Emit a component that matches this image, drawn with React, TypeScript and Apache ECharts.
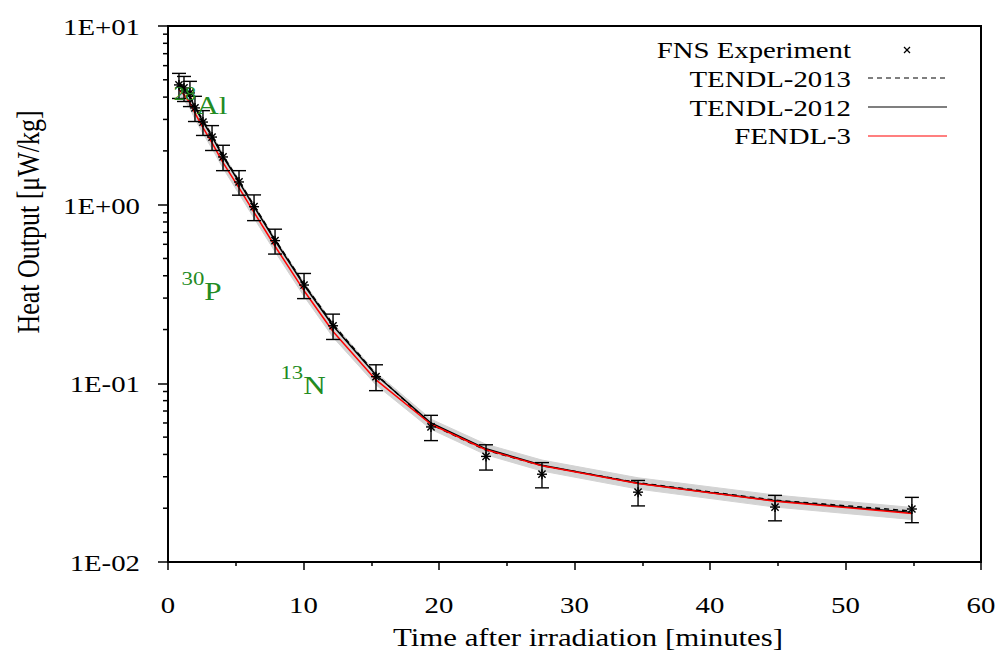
import React, { useEffect, useRef } from 'react';
import * as echarts from 'echarts';

// ---- data ----
const times = [0.81, 1.18, 1.62, 1.99, 2.58, 3.25, 4.06, 5.24, 6.35, 7.9, 10.04, 12.18, 15.35, 19.41, 23.47, 27.6, 34.69, 44.8, 54.9];
const expValues = [4.68, 4.5, 4.22, 3.48, 2.9, 2.39, 1.85, 1.34, 0.974, 0.629, 0.355, 0.21, 0.109, 0.057, 0.039, 0.031, 0.0246, 0.0203, 0.0198];
const expErrors = [0.75, 0.72, 0.68, 0.56, 0.46, 0.38, 0.3, 0.21, 0.16, 0.1, 0.057, 0.034, 0.018, 0.0092, 0.0063, 0.005, 0.004, 0.0033, 0.0032];
const tendl2013 = [4.8, 4.5, 4.05, 3.55, 2.96, 2.44, 1.89, 1.36, 0.99, 0.64, 0.36, 0.214, 0.1125, 0.0588, 0.0422, 0.0346, 0.0278, 0.0222, 0.0193];
const tendl2012 = [4.75, 4.45, 4.0, 3.5, 2.92, 2.4, 1.86, 1.34, 0.975, 0.63, 0.355, 0.21, 0.1114, 0.06, 0.043, 0.0348, 0.0276, 0.022, 0.0189];
const fendl3 = [4.4, 4.12, 3.72, 3.25, 2.7, 2.22, 1.72, 1.24, 0.905, 0.585, 0.33, 0.195, 0.1045, 0.059, 0.0425, 0.0346, 0.0275, 0.0219, 0.0187];
const bandLow = [4.1, 3.85, 3.45, 3.02, 2.5, 2.06, 1.6, 1.15, 0.84, 0.545, 0.307, 0.181, 0.098, 0.0553, 0.0398, 0.0323, 0.0256, 0.0203, 0.0173];
const bandHigh = [4.95, 4.6, 4.12, 3.62, 3.02, 2.48, 1.92, 1.38, 1.0, 0.648, 0.366, 0.217, 0.115, 0.063, 0.0456, 0.0372, 0.0296, 0.0237, 0.0202];

const xTickValues = [0, 10, 20, 30, 40, 50, 60];
const xTickLabels = ['0', '10', '20', '30', '40', '50', '60'];
const yTickValues = [0.01, 0.1, 1, 10];
const yTickLabels = ['1E-02', '1E-01', '1E+00', '1E+01'];
const yDecades = [0.01, 0.1, 1];
const yMantissas = [2, 3, 4, 5, 6, 7, 8, 9];

const legendNames = ['FNS Experiment', 'TENDL-2013', 'TENDL-2012', 'FENDL-3'];

type Nuclide = { mass: string; sym: string; t: number; v: number };
const nuclides: Nuclide[] = [
  { mass: '28', sym: 'Al', t: 0.4, v: 3.6 },
  { mass: '30', sym: 'P', t: 1.0, v: 0.33 },
  { mass: '13', sym: 'N', t: 8.3, v: 0.098 },
];

const FONT = 'Liberation Serif';
const SX = 1.2;
const FS = 24;
const GREEN = '#228b22';

function txt(x: number, y: number, text: string, opts: any = {}) {
  const align = opts.align || 'left';
  const va = opts.va || 'middle';
  return {
    type: 'text',
    x,
    y,
    scaleX: opts.scaleX ?? SX,
    scaleY: opts.scaleY ?? 1,
    rotation: opts.rotation || 0,
    silent: true,
    z: 100,
    style: {
      text,
      fontSize: opts.fontSize || FS,
      fontFamily: FONT,
      fill: opts.fill || '#000',
      align,
      verticalAlign: va,
      textAlign: align,
      textVerticalAlign: va,
    },
  };
}

export default function App() {
  const ref = useRef<HTMLDivElement>(null);
  useEffect(() => {
    if (!ref.current) return;
    const chart = echarts.init(ref.current, undefined, { renderer: 'svg' });

    const pts = (arr: number[]) => times.map((t, i) => [t, arr[i]]);
    const minorY: number[][] = [];
    yDecades.forEach((d) => yMantissas.forEach((m) => minorY.push([0, m * d])));

    const option: any = {
      animation: false,
      grid: { left: 168, top: 26, width: 813, height: 536, show: true, borderColor: '#000', borderWidth: 2, containLabel: false },
      xAxis: {
        type: 'value', min: 0, max: 60, interval: 10,
        axisLine: { show: true, onZero: false, lineStyle: { color: '#000', width: 2 } },
        axisTick: { show: true, inside: false, length: 8, lineStyle: { color: '#000', width: 1.5 } },
        minorTick: { show: true, splitNumber: 2, length: 4, lineStyle: { color: '#000', width: 1.5 } },
        axisLabel: { show: false },
        splitLine: { show: false },
      },
      yAxis: {
        type: 'log', logBase: 10, min: 0.01, max: 10,
        axisLine: { show: true, lineStyle: { color: '#000', width: 2 } },
        axisTick: { show: true, inside: false, length: 10, lineStyle: { color: '#000', width: 1.5 } },
        minorTick: { show: false },
        axisLabel: { show: false },
        splitLine: { show: false },
      },
      series: [
        {
          type: 'custom', name: 'band', silent: true, z: 1,
          data: [[times[0], bandLow[0]]],
          renderItem: (_p: any, api: any) => {
            const up = times.map((t, i) => api.coord([t, bandHigh[i]]));
            const lo = times.map((t, i) => api.coord([t, bandLow[i]])).reverse();
            return { type: 'polygon', shape: { points: up.concat(lo) }, style: { fill: '#d3d3d3', stroke: '#d3d3d3', lineWidth: 1 } };
          },
        },
        {
          type: 'custom', name: 'yminor', silent: true, clip: false, z: 5,
          data: minorY,
          renderItem: (_p: any, api: any) => {
            const c = api.coord([api.value(0), api.value(1)]);
            return { type: 'line', shape: { x1: c[0] - 5, y1: c[1], x2: c[0], y2: c[1] }, style: { stroke: '#000', lineWidth: 1.5 } };
          },
        },
        { type: 'line', name: 'TENDL-2012', data: pts(tendl2012), showSymbol: false, z: 2, lineStyle: { color: '#000', width: 1.5 } },
        { type: 'line', name: 'TENDL-2013', data: pts(tendl2013), showSymbol: false, z: 3, lineStyle: { color: '#000', width: 1.4, type: [5, 4] } },
        { type: 'line', name: 'FENDL-3', data: pts(fendl3), showSymbol: false, z: 4, lineStyle: { color: '#ff0000', width: 1.5 } },
        {
          type: 'custom', name: 'FNS Experiment', silent: true, z: 6,
          data: times.map((t, i) => [t, expValues[i], expErrors[i]]),
          encode: { x: 0, y: 1 },
          renderItem: (_p: any, api: any) => {
            const x = api.value(0), y = api.value(1), e = api.value(2);
            const c = api.coord([x, y]);
            const top = api.coord([x, y + e]);
            const bot = api.coord([x, y - e]);
            const st = { stroke: '#000', lineWidth: 1.4 };
            const cw = 7, m = 5, d = 3.6;
            const L = (x1: number, y1: number, x2: number, y2: number) => ({ type: 'line', shape: { x1, y1, x2, y2 }, style: st });
            return {
              type: 'group',
              children: [
                L(c[0], top[1], c[0], bot[1]),
                L(c[0] - cw, top[1], c[0] + cw, top[1]),
                L(c[0] - cw, bot[1], c[0] + cw, bot[1]),
                L(c[0] - m, c[1], c[0] + m, c[1]),
                L(c[0], c[1] - m, c[0], c[1] + m),
                L(c[0] - d, c[1] - d, c[0] + d, c[1] + d),
                L(c[0] - d, c[1] + d, c[0] + d, c[1] - d),
              ],
            };
          },
        },
      ],
    };
    chart.setOption(option);

    const toPx = (x: number, y: number) => chart.convertToPixel({ xAxisIndex: 0, yAxisIndex: 0 }, [x, y]) as number[];
    const g: any[] = [];
    xTickValues.forEach((v, i) => {
      const p = toPx(v, 0.01);
      g.push(txt(p[0], 605, xTickLabels[i], { align: 'center' }));
    });
    yTickValues.forEach((v, i) => {
      const p = toPx(0, v);
      g.push(txt(140, p[1] + 1, yTickLabels[i], { align: 'right' }));
    });
    g.push(txt(588, 637, 'Time after irradiation [minutes]', { align: 'center', fontSize: 25.7 }));
    g.push(txt(28, 222, 'Heat Output [\u03bcW/kg]', { align: 'center', rotation: Math.PI / 2, scaleX: 1, scaleY: SX, fontSize: 26 }));

    // legend
    const legY = [50, 79, 108, 136];
    legendNames.forEach((n, i) => g.push(txt(851, legY[i], n, { align: 'right' })));
    g.push({ type: 'line', silent: true, shape: { x1: 904, y1: 47, x2: 910, y2: 53 }, style: { stroke: '#000', lineWidth: 1.2 } });
    g.push({ type: 'line', silent: true, shape: { x1: 904, y1: 53, x2: 910, y2: 47 }, style: { stroke: '#000', lineWidth: 1.2 } });
    g.push({ type: 'line', silent: true, shape: { x1: 868, y1: 78, x2: 947, y2: 78 }, style: { stroke: '#000', lineWidth: 1.2, lineDash: [5, 4] } });
    g.push({ type: 'line', silent: true, shape: { x1: 868, y1: 107, x2: 947, y2: 107 }, style: { stroke: '#000', lineWidth: 1.2 } });
    g.push({ type: 'line', silent: true, shape: { x1: 868, y1: 136, x2: 947, y2: 136 }, style: { stroke: '#ff0000', lineWidth: 1.2 } });

    // nuclide labels
    nuclides.forEach((n) => {
      const p = toPx(n.t, n.v);
      g.push(txt(p[0], p[1] - 12, n.mass, { fill: GREEN, fontSize: 19 }));
      const w = n.mass.length * 9.5 * SX;
      g.push(txt(p[0] + w, p[1], n.sym, { fill: GREEN, fontSize: 26 }));
    });

    chart.setOption({ graphic: { elements: g } });
    return () => chart.dispose();
  }, []);
  return <div ref={ref} style={{ position: 'absolute', left: 0, top: 0, width: 999, height: 655, background: '#fff' }} />;
}
